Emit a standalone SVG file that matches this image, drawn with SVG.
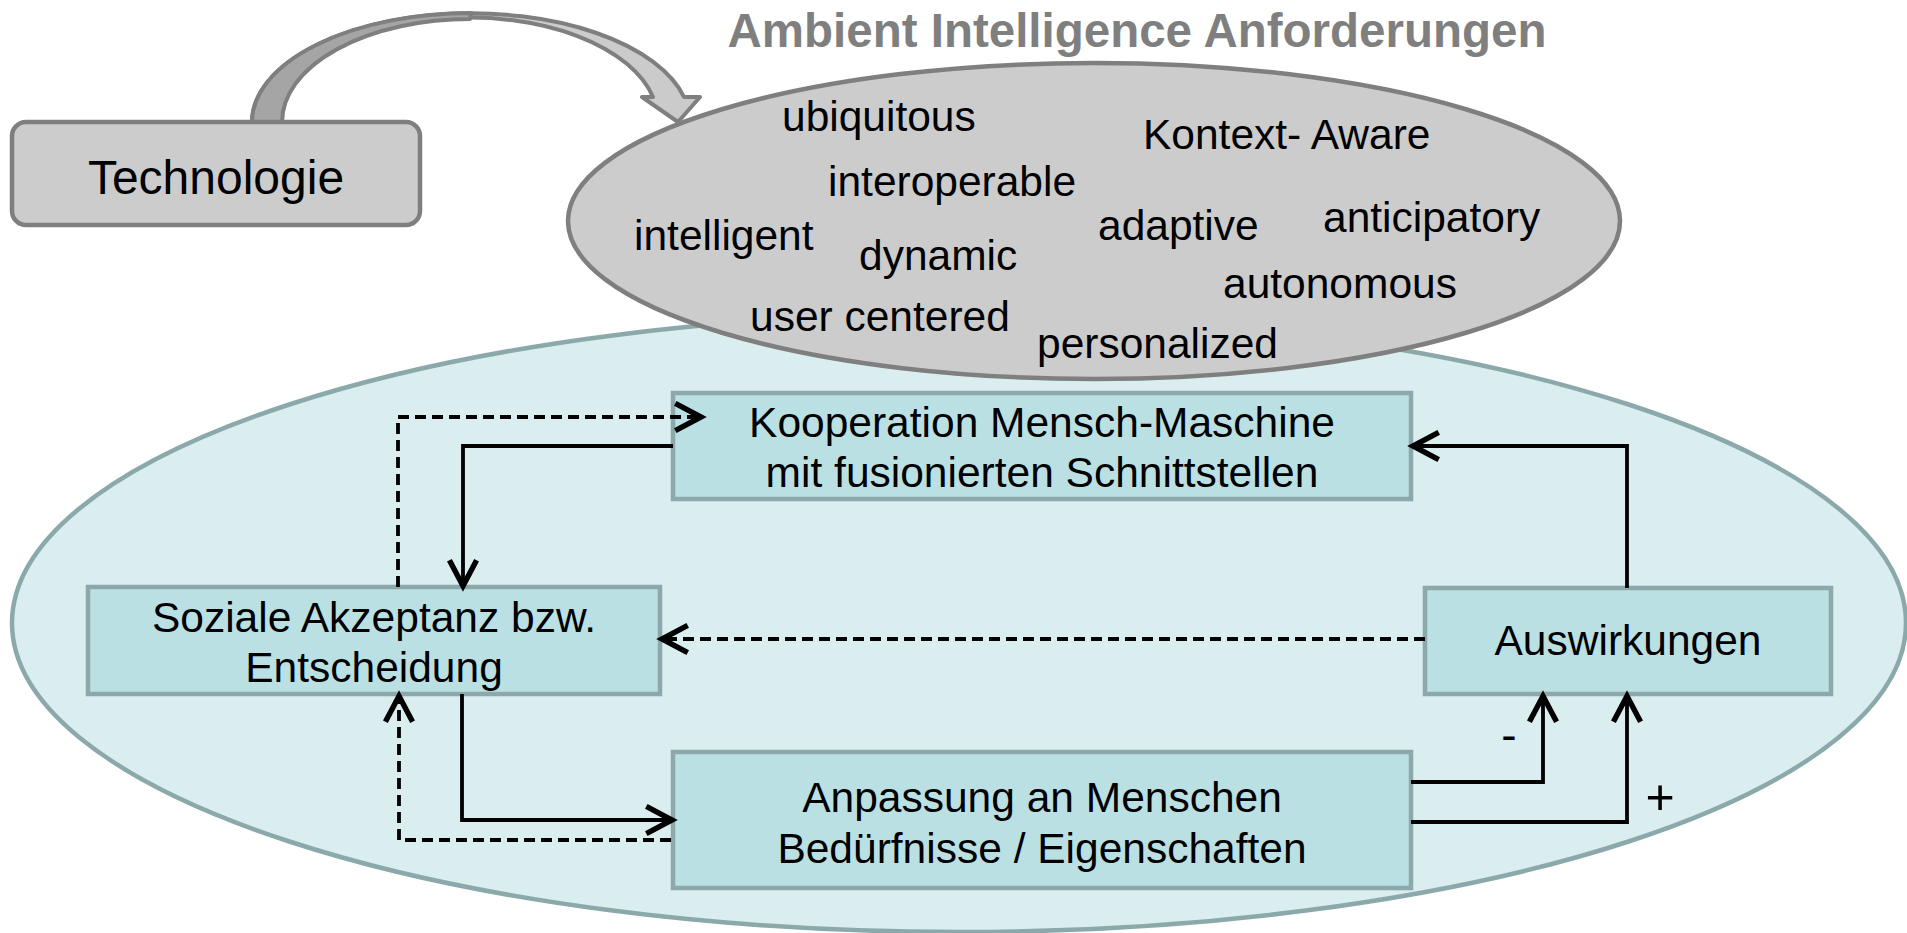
<svg xmlns="http://www.w3.org/2000/svg" width="1907" height="933" viewBox="0 0 1907 933">
  <defs>
    <marker id="open-arrow" markerUnits="userSpaceOnUse" markerWidth="40" markerHeight="40" viewBox="-22 -14 26 28" refX="0" refY="0" orient="auto" overflow="visible">
      <path d="M-18,-9.5 L0,0 L-18,9.5" fill="none" stroke="#000" stroke-width="3.8" stroke-linejoin="miter"/>
    </marker>
    <style>
      text { font-family: "Liberation Sans", Arial, sans-serif; fill: #000; }
      .title { font-size: 47.5px; font-weight: bold; fill: #7f7f7f; }
      .tech { font-size: 48px; }
      .word { font-size: 42.5px; }
      .label { font-size: 42.5px; text-anchor: middle; }
      .sign { text-anchor: middle; }
      .box { fill: #bbe0e3; stroke: #8ca8aa; stroke-width: 4.5; }
      .conn { fill: none; stroke: #000; stroke-width: 3.8; marker-end: url(#open-arrow); }
      .dash { stroke-dasharray: 11 6; }
    </style>
  </defs>

  <!-- application field: large light ellipse behind the process boxes -->
  <g id="field">
    <ellipse cx="959" cy="623" rx="947" ry="309" fill="#daedef" stroke="#8ba9aa" stroke-width="4.5"/>
  </g>

  <!-- requirement cloud -->
  <g id="requirements">
    <ellipse cx="1094" cy="221" rx="526" ry="158" fill="#cccccc" stroke="#7f7f7f" stroke-width="4.5"/>
    <text class="word" x="782" y="131">ubiquitous</text>
    <text class="word" x="1143" y="149">Kontext- Aware</text>
    <text class="word" x="828" y="196">interoperable</text>
    <text class="word" x="634" y="250">intelligent</text>
    <text class="word" x="859" y="270">dynamic</text>
    <text class="word" x="1098" y="240">adaptive</text>
    <text class="word" x="1323" y="232">anticipatory</text>
    <text class="word" x="1223" y="298">autonomous</text>
    <text class="word" x="750" y="331">user centered</text>
    <text class="word" x="1037" y="358">personalized</text>
  </g>

  <g id="title">
    <text class="title" x="1137" y="47" text-anchor="middle">Ambient Intelligence Anforderungen</text>
  </g>

  <!-- curved block arrow from Technologie to the requirement cloud -->
  <g id="curved-arrow" stroke="#7f7f7f" stroke-width="4" stroke-linejoin="round">
    <path d="M252,122 A219,109 0 0 1 684,97 L700,97 L678,122 L642,97 L653,97 A188,103 0 0 0 282,122 Z" fill="#cbcbcb"/>
    <path d="M252,122 A219,109 0 0 1 471,13 L470,19 A188,103 0 0 0 282,122 Z" fill="#a5a5a5"/>
  </g>

  <g id="technologie">
    <rect x="12" y="122" width="408" height="103" rx="14" ry="14" fill="#cccccc" stroke="#7f7f7f" stroke-width="4.5"/>
    <text class="tech" x="216" y="194" text-anchor="middle">Technologie</text>
  </g>

  <g id="kooperation">
    <rect class="box" x="673" y="393" width="738" height="106"/>
    <text class="label" x="1042" y="437">Kooperation Mensch-Maschine</text>
    <text class="label" x="1042" y="487">mit fusionierten Schnittstellen</text>
  </g>

  <g id="soziale-akzeptanz">
    <rect class="box" x="88" y="587" width="572" height="107"/>
    <text class="label" x="374" y="632">Soziale Akzeptanz bzw.</text>
    <text class="label" x="374" y="682">Entscheidung</text>
  </g>

  <g id="auswirkungen">
    <rect class="box" x="1425" y="588" width="406" height="106"/>
    <text class="label" x="1628" y="655">Auswirkungen</text>
  </g>

  <g id="anpassung">
    <rect class="box" x="673" y="752" width="738" height="136"/>
    <text class="label" x="1042" y="812">Anpassung an Menschen</text>
    <text class="label" x="1042" y="863">Bedürfnisse / Eigenschaften</text>
  </g>

  <g id="connectors">
    <path class="conn" d="M673,446 H463 V586"/>
    <path class="conn dash" d="M398,587 V417 H701"/>
    <path class="conn" d="M1627,588 V446 H1413"/>
    <path class="conn dash" d="M1425,639 H662"/>
    <path class="conn" d="M462,694 V820 H672"/>
    <path class="conn dash" d="M671,840 H399 V696"/>
    <path class="conn" d="M1411,782 H1543 V696"/>
    <path class="conn" d="M1411,822 H1627 V696"/>
    <text class="sign" x="1509" y="751" font-size="46">-</text>
    <text class="sign" x="1660" y="814" font-size="50">+</text>
  </g>
</svg>
